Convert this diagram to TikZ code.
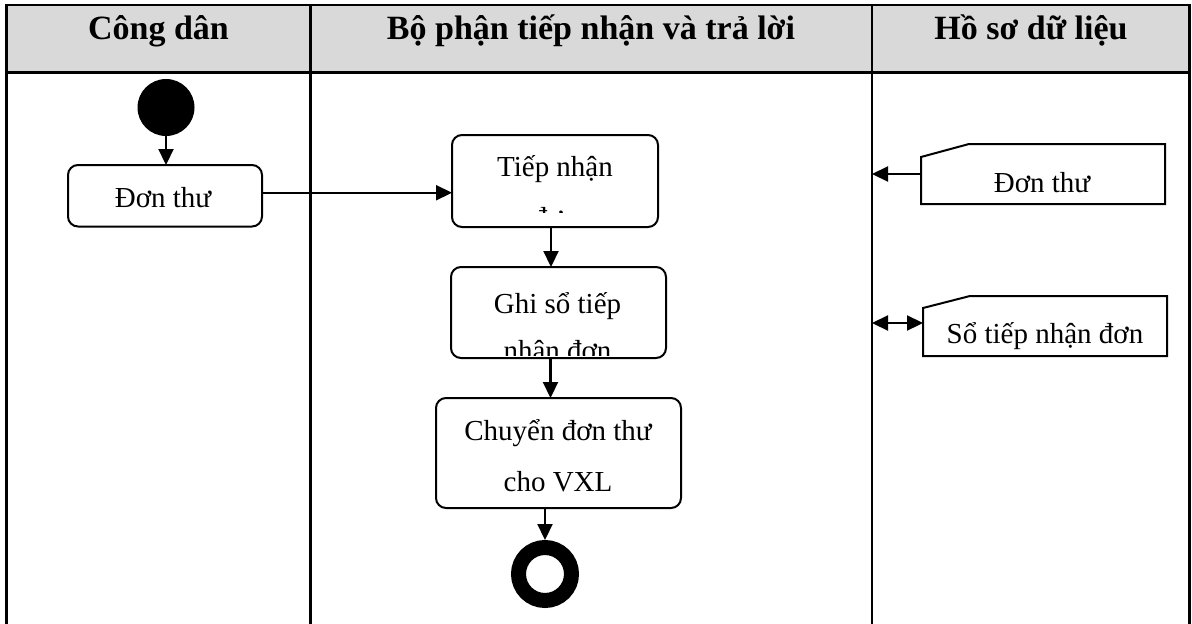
\documentclass[tikz,border=0pt]{standalone}
\usepackage{fontspec}
\setmainfont{Liberation Serif}
\usetikzlibrary{arrows.meta,calc}
\definecolor{headgray}{HTML}{D9D9D9}
\begin{document}
\begin{tikzpicture}[x=1pt,y=-1pt,
  grid/.style={line width=2.6pt, line join=miter},
  actbox/.style={draw, rounded corners=10pt, line width=2pt, inner sep=0pt, outer sep=0pt},
  docnode/.style={inner sep=0pt, outer sep=0pt, minimum width=244pt, minimum height=60pt},
  docline/.style={line width=2pt, line join=miter},
  lbl/.style={anchor=base, inner sep=0pt, font=\fontsize{29}{35}\selectfont},
  head/.style={anchor=base, inner sep=0pt, font=\fontsize{34}{40}\selectfont\bfseries},
  tip/.tip={Triangle[length=16pt,width=15pt]},
  arr/.style={line width=2.2pt, -tip},
  dbl/.style={line width=2.2pt, tip-tip},
]
\useasboundingbox (0,0) rectangle (1192,624);

% swimlane table
\fill[headgray] (6.5,5) rectangle (1189.5,72.5);
\draw[grid] (6.5,624) -- (6.5,5) -- (1189.5,5) -- (1189.5,624);
\draw[grid] (6.5,72.5) -- (1189.5,72.5);
\draw[grid] (310.5,5) -- (310.5,624);
\draw[grid] (872,5) -- (872,624);
\coordinate (lane3) at (872,0);

\node[head] (h1) at (158.5,39) {Công dân};
\node[head] (h2) at (591,39) {Bộ phận tiếp nhận và trả lời};
\node[head] (h3) at (1031,39) {Hồ sơ dữ liệu};

% start and end
\node[fill, circle, minimum size=57pt, inner sep=0pt] (start) at (166,107.5) {};
\node[draw, circle, line width=15pt, minimum size=53pt, inner sep=0pt] (end) at (545,574) {};

% activities
\node[actbox, minimum width=194pt, minimum height=61.5pt] (a1) at (165,195.75) {};
\node[lbl] (t1) at (163,207) {Đơn thư};

\node[actbox, minimum width=206pt, minimum height=92pt] (a2) at (555,181) {};
\begin{scope}
  \clip (452,135) rectangle (658,212);
  \node[lbl] (t2a) at (555,176) {Tiếp nhận};
  \node[lbl] (t2b) at (555,227) {đơn};
\end{scope}

\node[actbox, minimum width=215pt, minimum height=91pt] (a3) at (558.5,312.5) {};
\begin{scope}
  \clip (451,267) rectangle (666,355);
  \node[lbl] (t3a) at (557.5,313) {Ghi sổ tiếp};
  \node[lbl] (t3b) at (557.5,360) {nhận đơn};
\end{scope}

\node[actbox, minimum width=245pt, minimum height=110pt] (a4) at (558.5,453) {};
\node[lbl] (t4a) at (558,440) {Chuyển đơn thư};
\node[lbl] (t4b) at (558,491) {cho VXL};

% data documents
\node[docnode] (d1) at (1043,174) {};
\draw[docline] (d1.south west) -- ($(d1.north west)+(0,13)$) -- ($(d1.north west)+(48,0)$)
  -- (d1.north east) -- (d1.south east) -- cycle;
\node[lbl] (d1t) at (1042,192) {Đơn thư};

\node[docnode] (d2) at (1045,326) {};
\draw[docline] (d2.south west) -- ($(d2.north west)+(0,12)$) -- ($(d2.north west)+(47,0)$)
  -- (d2.north east) -- (d2.south east) -- cycle;
\node[lbl] (d2t) at (1045,343) {Sổ tiếp nhận đơn};

% flows
\draw[arr] (start.south) -- (start.south |- a1.north);
\draw[arr] ($(a1.east)+(0,-3)$) coordinate (f1) -- (f1 -| a2.west);
\draw[arr] ($(a2.south)+(-4,0)$) coordinate (f2) -- (f2 |- a3.north);
\draw[arr] ($(a3.south)+(-8,0)$) coordinate (f3) -- (f3 |- a4.north);
\draw[arr] (end.north |- a4.south) -- (end.north);
\draw[arr] (d1.west) -- (d1.west -| lane3);
\draw[dbl] ($(d2.west)+(0,-3)$) coordinate (f4) -- (f4 -| lane3);
\end{tikzpicture}
\end{document}
